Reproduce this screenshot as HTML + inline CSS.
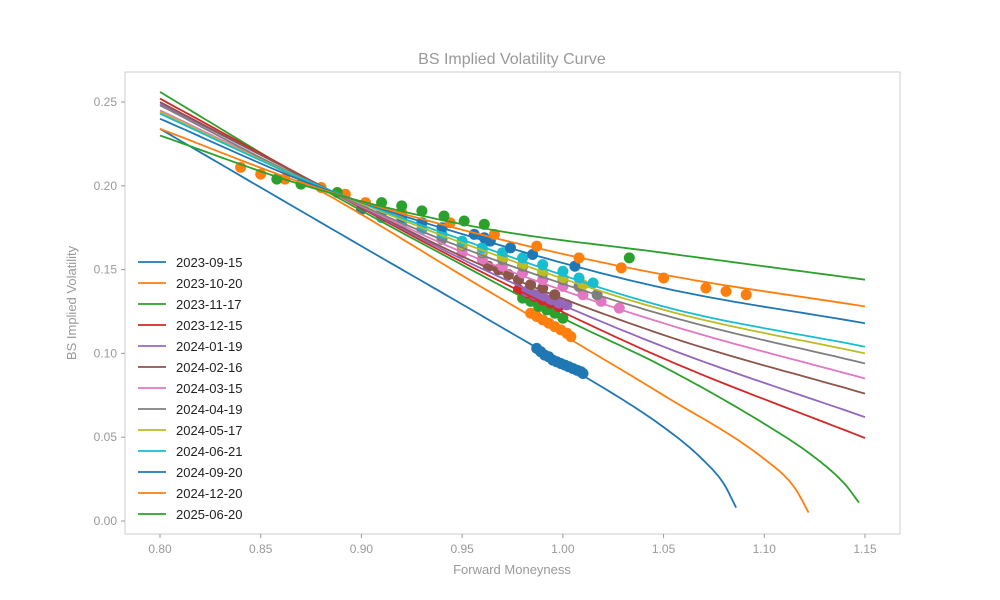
<!DOCTYPE html>
<html><head><meta charset="utf-8"><style>
body{margin:0;background:#fff;}
svg{display:block;font-family:"Liberation Sans","DejaVu Sans",sans-serif;}
</style></head><body>
<svg id="chart" width="1000" height="600" viewBox="0 0 1000 600">
<rect x="0" y="0" width="1000" height="600" fill="#fff"/>
<text x="512" y="64" text-anchor="middle" font-size="16" fill="#999">BS Implied Volatility Curve</text>
<g id="marks"></g>
<rect x="125" y="72" width="775" height="462" fill="none" stroke="#ccc" stroke-width="1"/>
<g id="axes"></g>
<text x="512" y="574" text-anchor="middle" font-size="13" fill="#999">Forward Moneyness</text>
<text transform="translate(76,303) rotate(-90)" text-anchor="middle" font-size="13" fill="#999">BS Implied Volatility</text>
<g id="legend"></g>
</svg>
<script>
const expiries=["2023-09-15","2023-10-20","2023-11-17","2023-12-15","2024-01-19","2024-02-16","2024-03-15","2024-04-19","2024-05-17","2024-06-21","2024-09-20","2024-12-20","2025-06-20"];
const colors=["#1f77b4","#ff7f0e","#2ca02c","#d62728","#9467bd","#8c564b","#e377c2","#7f7f7f","#bcbd22","#17becf","#1f77b4","#ff7f0e","#2ca02c"];
const xTicks=[0.80,0.85,0.90,0.95,1.00,1.05,1.10,1.15];
const yTicks=[0.00,0.05,0.10,0.15,0.20,0.25];
const G=[0.80,0.875,0.959,1.05,1.15];
const curveM=[
[0.80,0.90,0.959,1.00,1.05,1.07,1.08,1.086],
[0.80,0.875,0.959,1.00,1.05,1.10,1.115,1.122],
[0.80,0.875,0.959,1.00,1.05,1.10,1.125,1.14,1.147],
G,G,G,G,G,G,G,G,G,G];
const curveV=[
[0.234,0.164,0.123,0.094,0.056,0.036,0.022,0.008],
[0.244,0.200,0.140,0.111,0.075,0.037,0.020,0.005],
[0.256,0.202,0.147,0.121,0.092,0.058,0.038,0.022,0.011],
[0.252,0.203,0.149,0.097,0.0495],
[0.249,0.203,0.151,0.104,0.062],
[0.250,0.203,0.153,0.111,0.076],
[0.245,0.202,0.156,0.118,0.085],
[0.248,0.202,0.159,0.123,0.094],
[0.244,0.202,0.162,0.126,0.100],
[0.243,0.202,0.164,0.128,0.104],
[0.240,0.201,0.168,0.139,0.118],
[0.234,0.200,0.171,0.147,0.128],
[0.230,0.199,0.175,0.160,0.144]];
const ptM=[
[0.987,0.989,0.991,0.993,0.995,0.997,0.999,1.001,1.003,1.005,1.007,1.009,1.010],
[0.984,0.987,0.990,0.993,0.996,0.999,1.002,1.004],
[0.980,0.984,0.988,0.992,0.996,1.000],
[0.978,0.982,0.986,0.990,0.994,0.998],
[0.982,0.986,0.990,0.994,0.998,1.002],
[0.963,0.968,0.973,0.978,0.984,0.990,0.996],
[0.950,0.960,0.970,0.980,0.990,1.000,1.010,1.019,1.028],
[0.940,0.950,0.960,0.970,0.980,0.990,1.000,1.008,1.017],
[0.950,0.960,0.970,0.980,0.990,1.000,1.010],
[0.910,0.920,0.930,0.940,0.950,0.960,0.970,0.980,0.990,1.000,1.008,1.015],
[0.900,0.910,0.920,0.930,0.940,0.956,0.961,0.964,0.974,0.985,1.006],
[0.840,0.850,0.862,0.880,0.892,0.902,0.920,0.944,0.966,0.987,1.008,1.029,1.050,1.071,1.081,1.091],
[0.858,0.870,0.888,0.910,0.920,0.930,0.941,0.951,0.961,1.033]];
const ptV=[
[0.103,0.101,0.099,0.098,0.096,0.095,0.094,0.093,0.092,0.091,0.090,0.089,0.088],
[0.124,0.122,0.120,0.118,0.116,0.114,0.112,0.110],
[0.133,0.131,0.128,0.126,0.124,0.121],
[0.138,0.136,0.134,0.132,0.130,0.128],
[0.137,0.135,0.134,0.132,0.130,0.129],
[0.152,0.150,0.147,0.144,0.141,0.139,0.135],
[0.160,0.156,0.152,0.148,0.144,0.140,0.135,0.131,0.127],
[0.168,0.164,0.160,0.156,0.152,0.148,0.144,0.140,0.135],
[0.165,0.161,0.157,0.153,0.149,0.145,0.141],
[0.181,0.177,0.174,0.171,0.167,0.163,0.160,0.157,0.153,0.149,0.145,0.142],
[0.186,0.184,0.181,0.178,0.175,0.171,0.169,0.167,0.163,0.159,0.152],
[0.211,0.207,0.204,0.199,0.195,0.190,0.184,0.178,0.171,0.164,0.157,0.151,0.145,0.139,0.137,0.135],
[0.204,0.201,0.196,0.190,0.188,0.185,0.182,0.179,0.177,0.157]];

const NS="http://www.w3.org/2000/svg";
const X=m=>160+(m-0.80)/0.35*705;
const Y=v=>521-v/0.25*419;
function mk(tag,attrs,parent){const e=document.createElementNS(NS,tag);for(const k in attrs)e.setAttribute(k,attrs[k]);parent.appendChild(e);return e;}
function interp(xs,ys){const n=xs.length,d=[],mm=[];for(let i=0;i<n-1;i++)d.push((ys[i+1]-ys[i])/(xs[i+1]-xs[i]));
mm[0]=d[0];mm[n-1]=d[n-2];for(let i=1;i<n-1;i++){mm[i]=d[i-1]*d[i]<=0?0:(d[i-1]+d[i])/2;}
for(let i=0;i<n-1;i++){if(d[i]===0){mm[i]=mm[i+1]=0;continue;}const a=mm[i]/d[i],b=mm[i+1]/d[i],s=a*a+b*b;if(s>9){const t=3/Math.sqrt(s);mm[i]=t*a*d[i];mm[i+1]=t*b*d[i];}}
const pts=[];for(let i=0;i<n-1;i++){const h=xs[i+1]-xs[i];for(let k=0;k<20;k++){const t=k/20,t2=t*t,t3=t2*t;
const y=(2*t3-3*t2+1)*ys[i]+(t3-2*t2+t)*h*mm[i]+(-2*t3+3*t2)*ys[i+1]+(t3-t2)*h*mm[i+1];pts.push([xs[i]+t*h,y]);}}
pts.push([xs[n-1],ys[n-1]]);return pts;}
const marks=document.getElementById('marks');
for(let s=0;s<expiries.length;s++){
 const g=mk('g',{},marks);
 
 
 for(let i=0;i<ptM[s].length;i++){
  const c=mk('circle',{cx:X(ptM[s][i]).toFixed(1),cy:Y(ptV[s][i]).toFixed(1),r:5.5,fill:colors[s]},g);
  
  
 }
}
for(let s=0;s<expiries.length;s++){
 const p=interp(curveM[s],curveV[s]);
 const path=mk('path',{d:'M'+p.map(q=>X(q[0]).toFixed(1)+','+Y(q[1]).toFixed(1)).join('L'),fill:'none',stroke:colors[s],'stroke-width':1.8},marks);
 
 
}
const axes=document.getElementById('axes');
xTicks.forEach(t=>{const x=X(t);
 mk('line',{x1:x,x2:x,y1:534,y2:538,stroke:'#999'},axes);
 const tx=mk('text',{x:x,y:553,'text-anchor':'middle','font-size':12,fill:'#999'},axes);tx.textContent=t.toFixed(2);
 
 });
yTicks.forEach(t=>{const y=Y(t);
 mk('line',{x1:121,x2:125,y1:y,y2:y,stroke:'#999'},axes);
 const tx=mk('text',{x:117,y:y+4,'text-anchor':'end','font-size':12,fill:'#999'},axes);tx.textContent=t.toFixed(2);
 
 });
const leg=document.getElementById('legend');
expiries.forEach((e,i)=>{const y=262+i*21;
 const g=mk('g',{},leg);
 
 
 mk('line',{x1:138,x2:166,y1:y,y2:y,stroke:colors[i],'stroke-width':1.8},g);
 const tx=mk('text',{x:176,y:y+5,'font-size':13,fill:'#222'},g);tx.textContent=e;});
</script>
</body></html>
